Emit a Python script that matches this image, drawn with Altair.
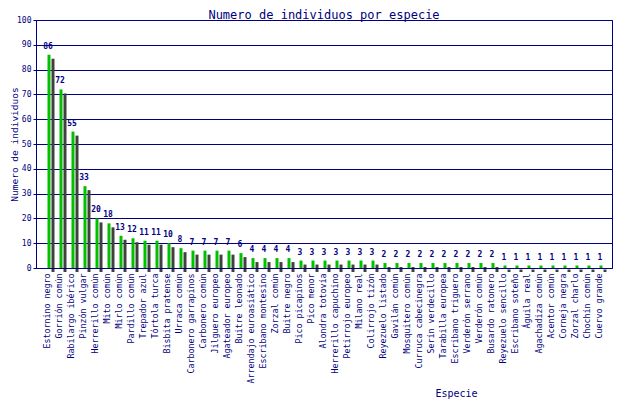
import altair as alt
import pandas as pd

species = [
    "Estornino negro", "Gorrión común", "Rabilargo ibérico", "Pinzón vulgar",
    "Herrerillo común", "Mito común", "Mirlo común", "Pardillo común",
    "Trepador azul", "Tórtola turca", "Bisbita pratense", "Urraca común",
    "Carbonero garrapinos", "Carbonero común", "Jilguero europeo",
    "Agateador europeo", "Buitre leonado", "Arrendajo euroasiático",
    "Escribano montesino", "Zorzal común", "Buitre negro", "Pico picapinos",
    "Pico menor", "Alondra totovía", "Herrerillo capuchino", "Petirrojo europeo",
    "Milano real", "Colirrojo tizón", "Reyezuelo listado", "Gavilán común",
    "Mosquitero común", "Curruca cabecinegra", "Serín verdecillo",
    "Tarabilla europea", "Escribano triguero", "Verderón serrano",
    "Verderón común", "Busardo ratonero", "Reyezuelo sencillo",
    "Escribano soteño", "Águila real", "Agachadiza común", "Acentor común",
    "Corneja negra", "Zorzal charlo", "Chochín común", "Cuervo grande",
]
counts = [
    86, 72, 55, 33, 20, 18, 13, 12, 11, 11, 10, 8,
    7, 7, 7, 7, 6, 4, 4, 4, 4,
    3, 3, 3, 3, 3, 3, 3,
    2, 2, 2, 2, 2, 2, 2, 2, 2, 2,
    1, 1, 1, 1, 1, 1, 1, 1, 1,
]

NAVY = "#000080"
FONT = "DejaVu Sans Mono"

df = pd.DataFrame({"Especie": species, "n": counts})

x = alt.X(
    "Especie:N",
    sort=species,
    scale=alt.Scale(paddingInner=0, paddingOuter=0.5),
    axis=alt.Axis(
        title="Especie",
        labelAngle=-90,
        labelFont=FONT,
        labelFontSize=8.3,
        labelColor=NAVY,
        labelPadding=5,
        ticks=False,
        domainColor=NAVY,
        domainWidth=1,
        titleFont=FONT,
        titleFontSize=10,
        titleFontWeight="normal",
        titleColor=NAVY,
        titleX=420,
        titleY=125,
        titleAlign="center",
        titleBaseline="middle",
        zindex=1,
    ),
)
y = alt.Y(
    "n:Q",
    scale=alt.Scale(domain=[0, 100], nice=False),
    axis=alt.Axis(
        title="Numero de individuos",
        values=list(range(0, 101, 10)),
        labelFont=FONT,
        labelFontSize=8,
        labelColor=NAVY,
        labelPadding=2,
        tickSize=3,
        tickColor=NAVY,
        domainColor=NAVY,
        gridColor=NAVY,
        gridWidth=1,
        titleFont=FONT,
        titleFontSize=9.5,
        titleFontWeight="normal",
        titleColor=NAVY,
        titleAngle=270,
        titleX=-22,
        titleY=124,
        titleAlign="center",
        titleBaseline="middle",
    ),
)

base = alt.Chart(df)

shadow = base.mark_bar(size=3, xOffset=5, yOffset=4, y2Offset=4, color="#404040").encode(
    x=x, y=y
)
bars = base.mark_bar(size=3, xOffset=1, color="#00C000").encode(x=x, y=y)
labels = base.mark_text(
    font=FONT, fontSize=8, fontWeight="bold", color=NAVY, baseline="bottom", dy=-4, dx=0
).encode(x=x, y=y, text="n:Q")

chart = (
    alt.layer(shadow, bars, labels)
    .properties(
        width=576,
        height=248,
        title=alt.TitleParams(
            "Numero de individuos por especie",
            font=FONT,
            fontSize=12,
            fontWeight="normal",
            color=NAVY,
            offset=0,
            dy=5.5,
        ),
        autosize=alt.AutoSizeParams(type="none"),
        padding={"left": 28, "top": 12, "right": 20, "bottom": 140},
        background="white",
    )
    .configure_view(stroke=NAVY, strokeWidth=1)
)

chart.save("out.html", embed_options={"renderer": "svg", "actions": False})
